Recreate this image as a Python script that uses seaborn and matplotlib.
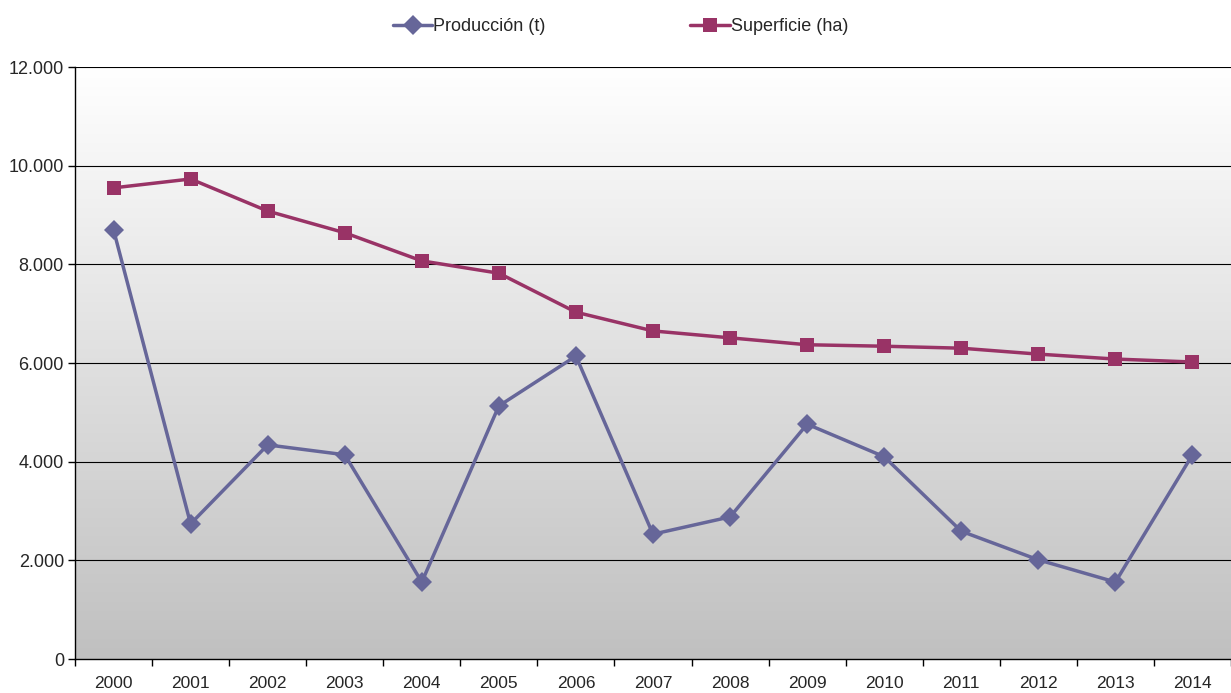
import numpy as np
import pandas as pd
import matplotlib
matplotlib.use("Agg")
import matplotlib.pyplot as plt
from matplotlib.ticker import FuncFormatter, FixedLocator
from matplotlib.colors import LinearSegmentedColormap
import seaborn as sns

years = ["2000", "2001", "2002", "2003", "2004", "2005", "2006", "2007",
         "2008", "2009", "2010", "2011", "2012", "2013", "2014"]
produccion = [8700, 2740, 4340, 4140, 1560, 5130, 6140, 2530, 2880, 4760,
              4100, 2590, 2010, 1560, 4140]
superficie = [9550, 9730, 9080, 8640, 8070, 7820, 7030, 6650, 6510, 6370,
              6340, 6300, 6180, 6080, 6020]
series_names = ["Producción (t)", "Superficie (ha)"]
colors = ["#666699", "#993366"]

sns.set_theme(style="white")
plt.rcParams['font.family'] = ['Liberation Sans', 'DejaVu Sans']

df = pd.DataFrame({"idx": list(range(len(years))) * 2,
                   "value": produccion + superficie,
                   "serie": [series_names[0]] * len(years) + [series_names[1]] * len(years)})

fig = plt.figure(figsize=(12.31, 6.93), dpi=100)
ax = fig.add_axes([75 / 1231, 34 / 693, (1231 - 75) / 1231, 592 / 693])

# gradient background: white at top, grey at bottom
grad = np.linspace(0, 1, 256).reshape(-1, 1)
cmap = LinearSegmentedColormap.from_list("g", ["#ffffff", "#c0c0c0"])
ax.imshow(grad, extent=[-0.5, 14.5, 0, 12000], aspect="auto", cmap=cmap,
          zorder=0, origin="upper")

for yv in range(2000, 12001, 2000):
    ax.axhline(yv, color="#000000", lw=0.8, zorder=1)

sns.lineplot(data=df, x="idx", y="value", hue="serie", style="serie",
             palette=dict(zip(series_names, colors)),
             markers={series_names[0]: "D", series_names[1]: "s"},
             dashes=False, linewidth=2.5, markersize=10, markeredgewidth=0,
             ax=ax, zorder=3, legend=True)

ax.set_xlim(-0.5, 14.5)
ax.set_ylim(0, 12000)
ax.set_xticks(range(len(years)))
ax.set_xticklabels(years, fontsize=12.5)
ax.xaxis.set_minor_locator(FixedLocator(np.arange(-0.5, 14.6, 1)))
ax.tick_params(axis="x", which="major", length=0, pad=12)
ax.tick_params(axis="x", which="minor", length=5, width=1, color="black", direction="out", bottom=True)
ax.set_yticks(range(0, 12001, 2000))
ax.yaxis.set_major_formatter(FuncFormatter(lambda v, p: f"{int(v):,}".replace(",", ".")))
ax.tick_params(axis="y", length=5, width=1, color="black", direction="out", left=True, labelsize=13, pad=3)
ax.set_xlabel("")
ax.set_ylabel("")
for s in ["top", "right"]:
    ax.spines[s].set_visible(False)
for s in ["left", "bottom"]:
    ax.spines[s].set_color("black")
    ax.spines[s].set_linewidth(1)

handles, labels = ax.get_legend_handles_labels()
ax.get_legend().remove()
fig.legend(handles, labels, loc="upper center", bbox_to_anchor=(0.504, 0.997),
           ncol=2, frameon=False, fontsize=13, columnspacing=8,
           handlelength=2.2, handletextpad=0.05)

fig.savefig("out.png", dpi=100)
